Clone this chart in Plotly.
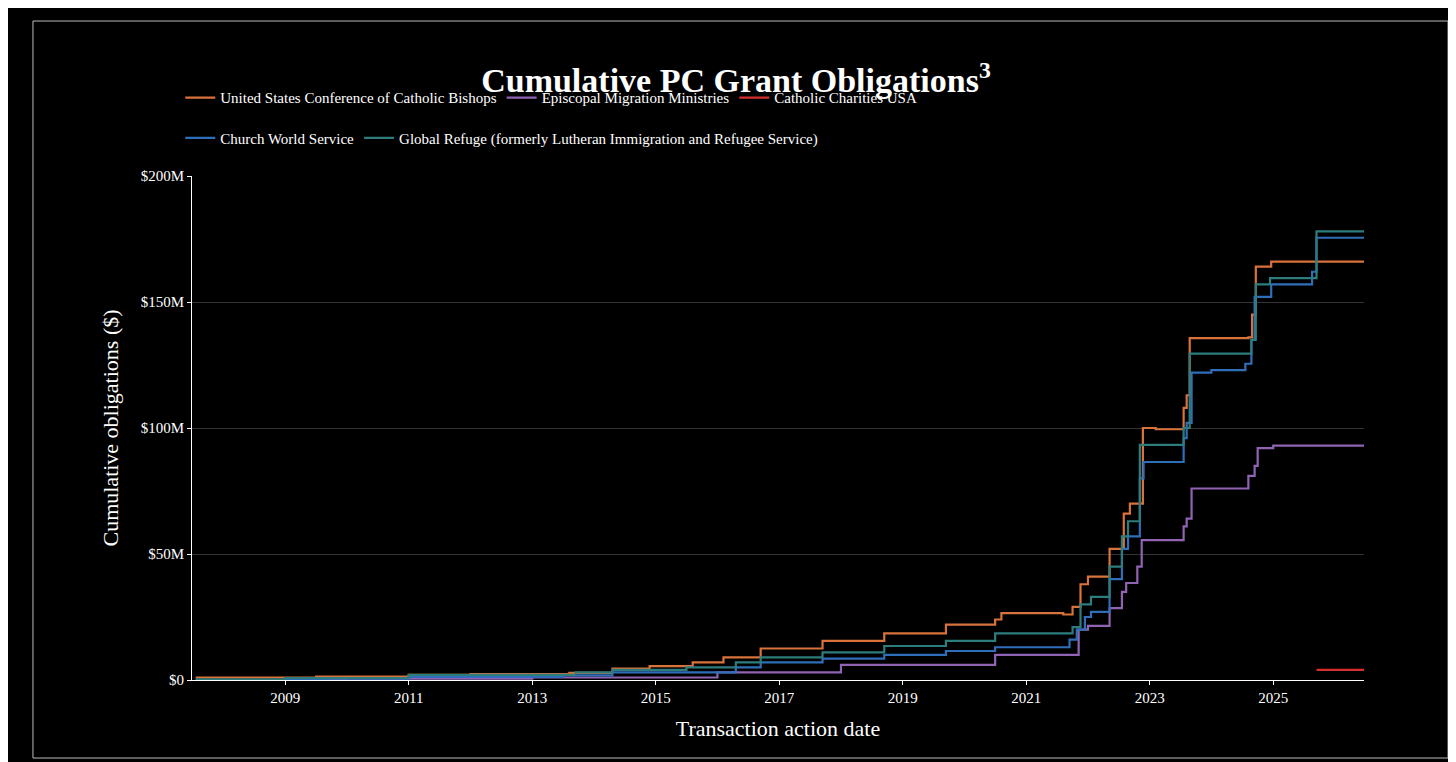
import plotly.graph_objects as go

FONT = "Liberation Serif"

def yd(y):
    yr = int(y); frac = y - yr
    doy = int(round(frac * 365))
    import datetime
    return (datetime.date(yr, 1, 1) + datetime.timedelta(days=doy)).isoformat()

usccb_t = [2007.55, 2009.5, 2011.0, 2012.0, 2013.6, 2014.3, 2014.9, 2015.6, 2016.1, 2016.7, 2017.7, 2018.7, 2019.7, 2020.5, 2020.6, 2021.6, 2021.75, 2021.88, 2022.0, 2022.35, 2022.58, 2022.68, 2022.89, 2023.1, 2023.55, 2023.6, 2023.65, 2024.6, 2024.66, 2024.72, 2024.97, 2026.47]
usccb_v = [1.0, 1.3, 2.0, 2.3, 2.8, 4.5, 5.5, 7.0, 9.0, 12.5, 15.5, 18.5, 22.0, 24.0, 26.5, 26.0, 29.0, 38.0, 41.0, 52.0, 66.0, 70.0, 100.0, 99.5, 108.0, 113.0, 135.7, 136.0, 145.0, 164.0, 166.0, 166.0]

cws_t = [2007.55, 2009.7, 2011.0, 2013.5, 2014.3, 2016.3, 2016.7, 2017.7, 2018.7, 2019.7, 2020.5, 2021.7, 2021.82, 2021.95, 2022.05, 2022.35, 2022.55, 2022.65, 2022.84, 2022.9, 2023.55, 2023.6, 2023.68, 2024.0, 2024.55, 2024.65, 2024.7, 2024.97, 2025.63, 2025.7, 2026.47]
cws_v = [0.0, 0.5, 1.2, 1.8, 3.0, 5.0, 7.0, 8.5, 10.0, 11.5, 13.0, 16.0, 20.0, 25.0, 27.0, 40.0, 52.0, 57.0, 80.0, 86.5, 96.0, 102.0, 122.0, 123.0, 125.5, 135.0, 152.0, 157.0, 162.0, 175.5, 175.5]

gr_t = [2007.55, 2009.0, 2011.0, 2013.7, 2014.3, 2015.5, 2016.3, 2016.7, 2017.7, 2018.7, 2019.7, 2020.5, 2021.6, 2021.75, 2021.88, 2022.05, 2022.35, 2022.55, 2022.65, 2022.84, 2023.55, 2023.65, 2024.57, 2024.65, 2024.72, 2024.95, 2025.7, 2026.47]
gr_v = [0.3, 0.8, 2.0, 3.0, 4.0, 5.0, 7.0, 9.0, 11.0, 13.5, 15.5, 18.5, 18.5, 21.0, 30.0, 33.0, 45.0, 57.0, 63.0, 93.3, 100.0, 129.5, 129.5, 135.0, 157.0, 159.5, 178.0, 178.0]

emm_t = [2007.55, 2010.0, 2013.0, 2016.0, 2018.0, 2020.5, 2021.85, 2022.0, 2022.35, 2022.55, 2022.62, 2022.8, 2022.87, 2023.55, 2023.6, 2023.68, 2024.6, 2024.7, 2024.75, 2025.0, 2026.47]
emm_v = [0.0, 0.5, 1.0, 3.0, 6.0, 10.0, 20.0, 21.5, 28.5, 35.0, 38.5, 45.0, 55.5, 61.0, 64.0, 76.0, 81.0, 85.0, 92.0, 93.0, 93.0]

cc_t = [2025.7, 2026.47]
cc_v = [4.0, 4.0]

series = [
    ("United States Conference of Catholic Bishops", usccb_t, usccb_v, "#d9733b", "legend"),
    ("Episcopal Migration Ministries", emm_t, emm_v, "#9063b3", "legend"),
    ("Catholic Charities USA", cc_t, cc_v, "#d62f2f", "legend"),
    ("Church World Service", cws_t, cws_v, "#2f6fba", "legend2"),
    ("Global Refuge (formerly Lutheran Immigration and Refugee Service)", gr_t, gr_v, "#2e7d7d", "legend2"),
]
draw_order = [0, 1, 2, 3, 4]

fig = go.Figure()
for name, t, v, c, lg in series:
    fig.add_trace(go.Scatter(x=[yd(a) for a in t], y=[b * 1e6 for b in v], mode="lines",
                             line=dict(color=c, width=2.2, shape="hv"), name=name, legend=lg))

years = list(range(2009, 2026, 2))
fig.update_layout(
    width=1456, height=762, paper_bgcolor="black", plot_bgcolor="black",
    margin=dict(l=184, r=100, t=168, b=90),
    font=dict(family=FONT, color="white", size=15),
    title=dict(text="<b>Cumulative PC Grant Obligations<sup>3</sup></b>", x=0.5, xanchor="center",
               y=0.905, yanchor="middle", font=dict(size=34, family=FONT)),
    legend=dict(orientation="h", x=-0.01, y=1.155, xanchor="left", yanchor="middle",
                bgcolor="rgba(0,0,0,0)", font=dict(size=15), entrywidth=0, tracegroupgap=0),
    legend2=dict(orientation="h", x=-0.01, y=1.075, xanchor="left", yanchor="middle",
                 bgcolor="rgba(0,0,0,0)", font=dict(size=15)),
    xaxis=dict(range=[yd(2007.49), yd(2026.47)], tickvals=[f"{y}-01-01" for y in years],
               ticktext=[str(y) for y in years], showgrid=False, ticks="outside", tickcolor="white",
               ticklen=4, showline=True, linecolor="white", zeroline=False,
               title=dict(text="Transaction action date", font=dict(size=22)), tickfont=dict(size=15)),
    yaxis=dict(range=[0, 200e6], tickvals=[0, 50e6, 100e6, 150e6, 200e6],
               ticktext=["$0", "$50M", "$100M", "$150M", "$200M"], gridcolor="#333333",
               showline=True, linecolor="white", zeroline=False, ticks="outside", tickcolor="white", ticklen=4,
               title=dict(text="Cumulative obligations ($)", font=dict(size=22)), tickfont=dict(size=15)),
    shapes=[dict(type="rect", xref="paper", yref="paper", x0=-0.1357, x1=1.0717, y0=-0.1548, y1=1.3075,
                 line=dict(color="#bbbbbb", width=1))],
)
fig.write_html("out.html")
